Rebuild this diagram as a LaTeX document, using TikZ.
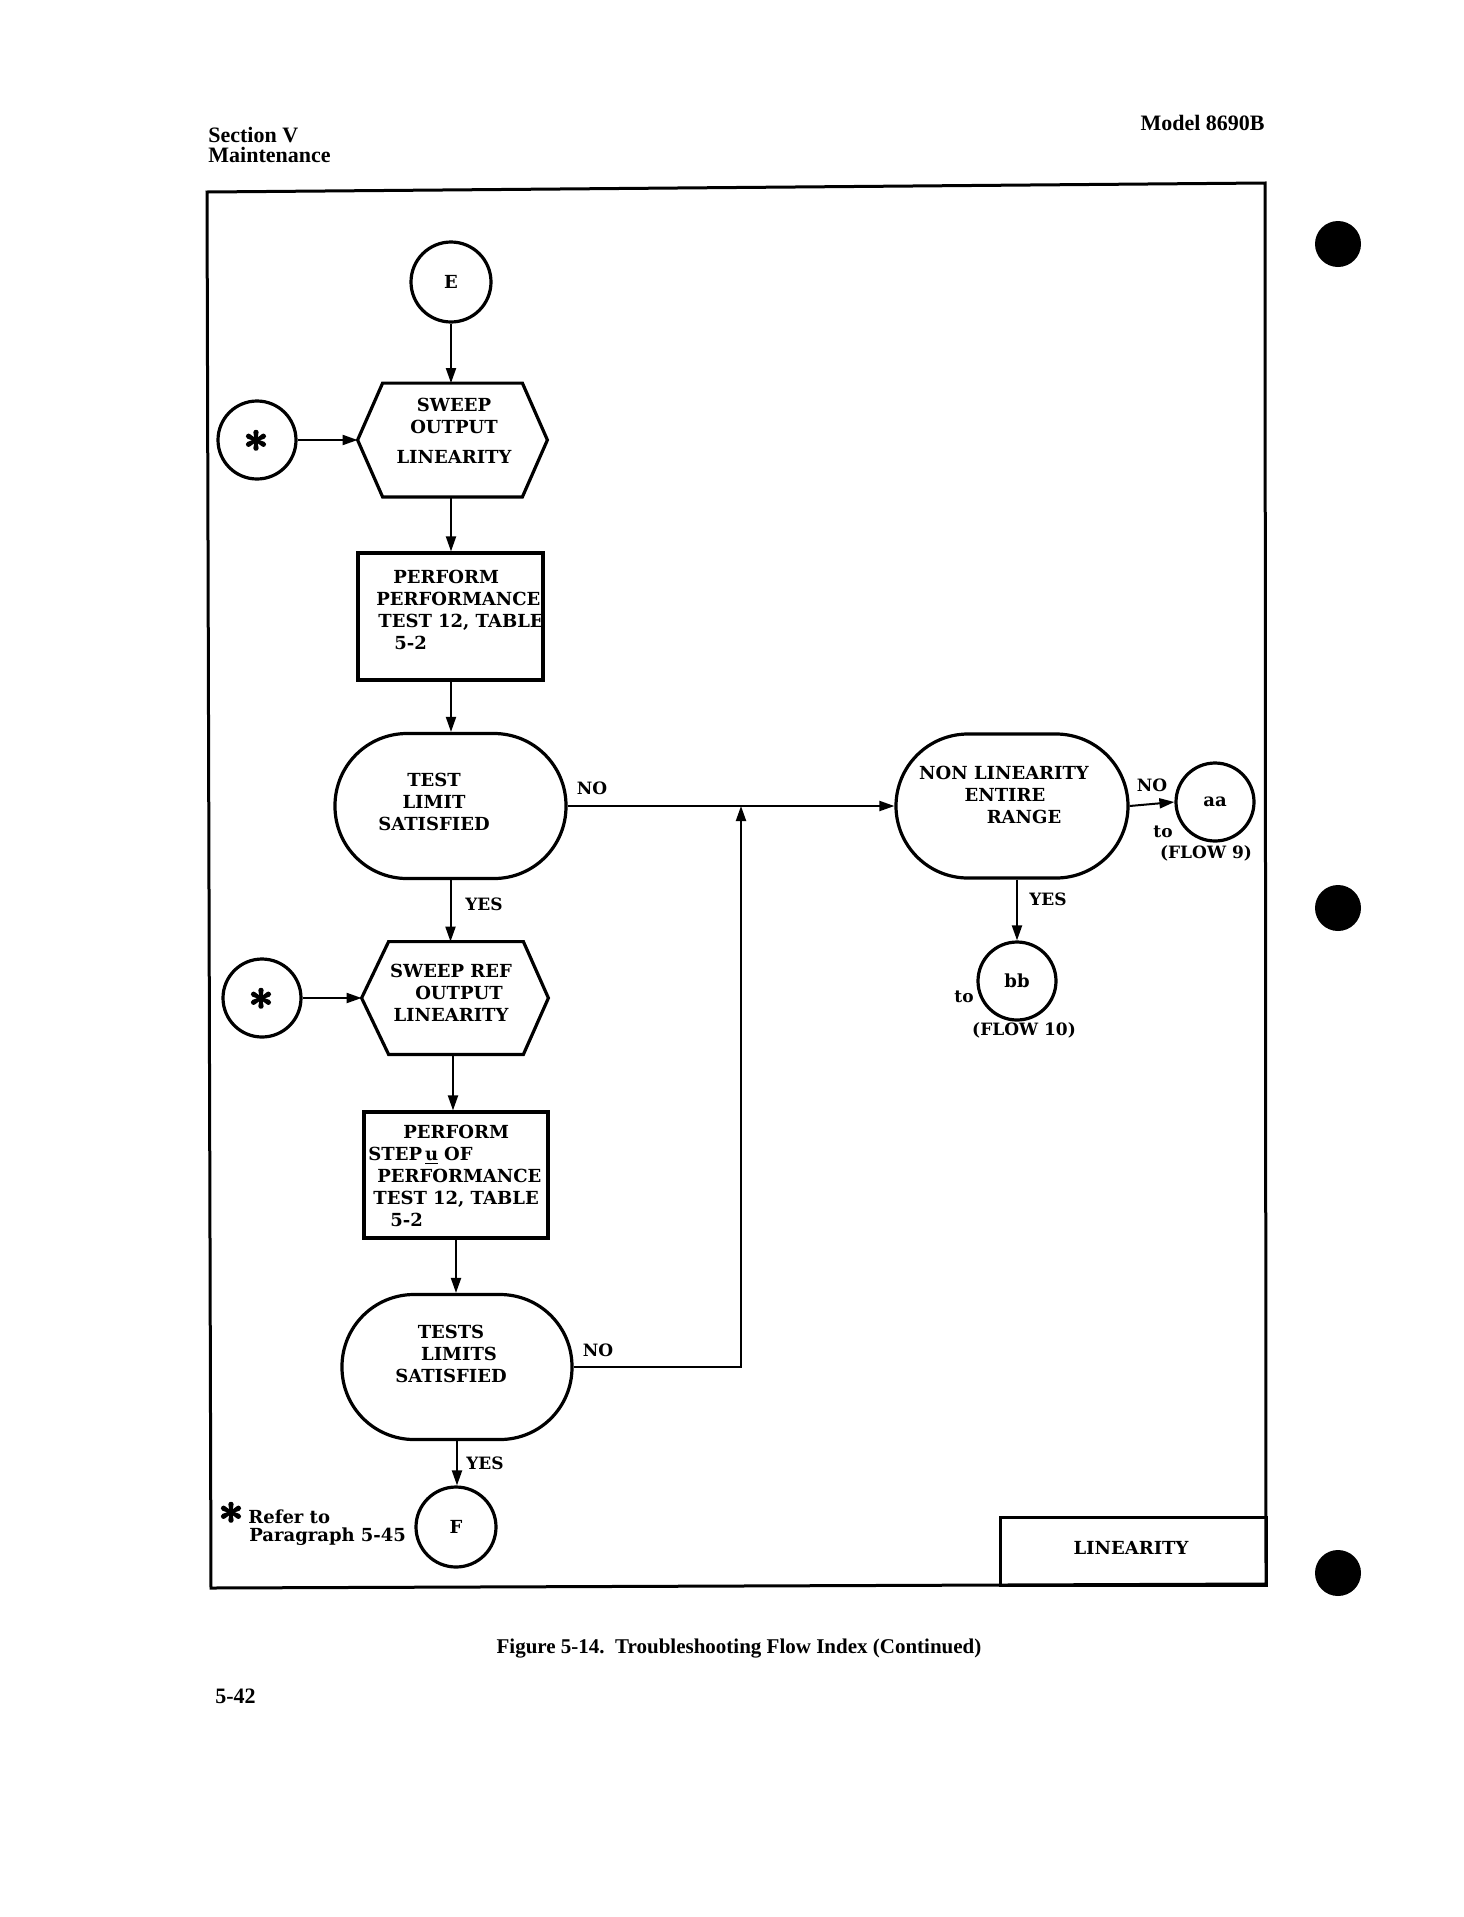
\documentclass[tikz,border=0pt]{standalone}
\usepackage{fontspec}
\newfontfamily\bxf{DejaVu Serif}
\newfontfamily\hdf{Liberation Serif}
\newfontfamily\starf{lmroman10-bold}[Extension=.otf, FakeBold=3]
\usetikzlibrary{arrows.meta}
\begin{document}
\begin{tikzpicture}[x=0.5pt,y=-0.5pt,
  outl/.style={line width=1.6pt},
  ccirc/.style={draw, circle, outl, inner sep=0pt, minimum size=39pt, font=\bxf\bfseries\fontsize{9}{11}\selectfont},
  hexnode/.style={inner sep=0pt},
  rectnode/.style={draw, outl, inner sep=0pt},
  stadium/.style={draw, outl, inner sep=0pt, rounded corners=36pt},
  txt/.style={inner sep=0pt, align=center, font=\bxf\bfseries\fontsize{9}{11}\selectfont},
  ltxt/.style={txt, align=left, anchor=west},
  lbl/.style={inner sep=0pt, font=\bxf\bfseries\fontsize{8.5}{10}\selectfont},
  hdr/.style={inner sep=0pt, font=\hdf\bfseries\fontsize{11}{13}\selectfont},
  arr/.style={line width=1pt, -{Triangle[length=7.5pt,width=5pt]}},
  ln/.style={line width=1pt},
  star/.style={inner sep=0pt, font=\starf\fontsize{22}{22}\selectfont}
]
\useasboundingbox (0,0) rectangle (1463,1917);
\fill[white] (0,0) rectangle (1463,1917);

% header
\node[hdr, anchor=west] (sec) at (208,135) {Section V};
\node[hdr, anchor=west] (mnt) at (208,155) {Maintenance};
\node[hdr, anchor=east] (mdl) at (1265,123) {Model 8690B};

% frame
\draw[line width=1.5pt] (207,192) -- (1265,183) -- (1266,1584) -- (211,1588) -- cycle;
\node[draw, line width=1.5pt, minimum width=133pt, minimum height=34pt, inner sep=0pt] (lin) at (1133,1551) {};
\node[txt] (lint) at (1131,1548) {LINEARITY};

% punch holes
\fill (1338,244) circle (11.5pt);
\fill (1338,908) circle (11.5pt);
\fill (1338,1573) circle (11.5pt);

% top chain
\node[ccirc, minimum size=40pt] (E) at (451,282) {E};
\node[hexnode, minimum width=94.5pt, minimum height=56.5pt] (hex1) at (452.5,440) {};
\draw[outl] (hex1.west) -- ([xshift=12.5pt]hex1.north west) -- ([xshift=-12.5pt]hex1.north east) -- (hex1.east) -- ([xshift=-12.5pt]hex1.south east) -- ([xshift=12.5pt]hex1.south west) -- cycle;
\node[txt] (hex1t) at (454,431) {SWEEP\\OUTPUT\\[4pt]LINEARITY};
\node[ccirc] (s1) at (257,440) {};
\node[star] (s1t) at (256,447) {*};

\node[rectnode, minimum width=92.5pt, minimum height=63.5pt] (r1) at (450.5,616.5) {};
\node[ltxt] (r1t) at (376,610) {\hspace*{8.5pt}PERFORM\\PERFORMANCE\\\hspace*{1pt}TEST 12, TABLE\\\hspace*{9pt}5-2};

\node[stadium, minimum width=115.5pt, minimum height=72.5pt] (st1) at (450.5,806) {};
\node[txt] (st1t) at (434,802) {TEST\\LIMIT\\SATISFIED};

% right branch
\node[stadium, minimum width=116pt, minimum height=72pt] (nl) at (1012,806) {};
\node[txt] (nlt) at (1004,795) {NON LINEARITY\\\hspace*{1pt}ENTIRE\\\hspace*{20pt}RANGE};
\node[ccirc] (aa) at (1215,802) {aa};
\node[ccirc] (bb) at (1017,981) {bb};
\coordinate (jn) at (741,806);

% second chain
\node[hexnode, minimum width=93pt, minimum height=56pt] (hex2) at (455,998) {};
\draw[outl] (hex2.west) -- ([xshift=13.5pt]hex2.north west) -- ([xshift=-12.5pt]hex2.north east) -- (hex2.east) -- ([xshift=-12.5pt]hex2.south east) -- ([xshift=13.5pt]hex2.south west) -- cycle;
\node[txt] (hex2t) at (451,993) {SWEEP REF\\\hspace*{8pt}OUTPUT\\LINEARITY};
\node[ccirc] (s2) at (262,998) {};
\node[star] (s2t) at (261,1005) {*};

\node[rectnode, minimum width=92pt, minimum height=63pt] (r2) at (456,1175) {};
\node[ltxt] (r2t) at (368,1176) {\hspace*{17.5pt}PERFORM\\STEP\,\underline{u}\,\,OF\\\hspace*{4.5pt}PERFORMANCE\\\hspace*{2.5pt}TEST 12, TABLE\\\hspace*{11pt}5-2};

\node[stadium, minimum width=115pt, minimum height=72.5pt] (st3) at (457,1367) {};
\node[txt] (st3t) at (451,1354) {TESTS\\\hspace*{8pt}LIMITS\\SATISFIED};

\node[ccirc, minimum size=40pt] (F) at (456,1527) {F};

% connectors
\draw[arr] (E.south) -- (E.south |- hex1.north);
\draw[arr] (s1.east) -- (hex1.west);
\draw[arr] (hex1.south -| E) -- (E |- r1.north);
\draw[arr] (r1.south -| E) -- (E |- st1.north);
\draw[arr] (st1.south) -- (st1.south |- hex2.north);
\draw[arr] (s2.east) -- (hex2.west);
\draw[arr] (hex2.south -| 453,0) -- (453,0 |- r2.north);
\draw[arr] (r2.south) -- (r2.south |- st3.north);
\draw[arr] (st3.south) -- (st3.south |- F.north);
\draw[arr] (st1.east) -- (nl.west);
\draw[arr] (st3.east) -- (jn |- st3.east) -- (jn);
\draw[arr] (nl.east) -- (aa.west);
\draw[arr] (nl.south -| bb) -- (bb.north);

% labels
\node[lbl] (no1) at (592,788) {NO};
\node[lbl] (yes1) at (484,904) {YES};
\node[lbl] (no2) at (1152,785) {NO};
\node[lbl] (to1) at (1163,832) {to};
\node[lbl] (fl9) at (1206,853) {(FLOW 9)};
\node[lbl] (yes2) at (1048,899) {YES};
\node[lbl] (to2) at (964,997) {to};
\node[lbl] (fl10) at (1024,1030) {(FLOW 10)};
\node[lbl] (no3) at (598,1350) {NO};
\node[lbl] (yes3) at (485,1463) {YES};

% footnote
\node[star] (fs) at (231,1519) {*};
\node[lbl, anchor=west, font=\bxf\bfseries\fontsize{9}{11}\selectfont] (ref1) at (248,1517) {Refer to};
\node[lbl, anchor=west, font=\bxf\bfseries\fontsize{9}{11}\selectfont] (ref2) at (249,1537) {Paragraph 5-45};

% caption and page number
\node[hdr, font=\hdf\bfseries\fontsize{10.5}{12}\selectfont] (cap) at (739,1649) {Figure 5-14.\ \ Troubleshooting Flow Index (Continued)};
\node[hdr, anchor=west] (pg) at (215,1696) {5-42};
\end{tikzpicture}
\end{document}
